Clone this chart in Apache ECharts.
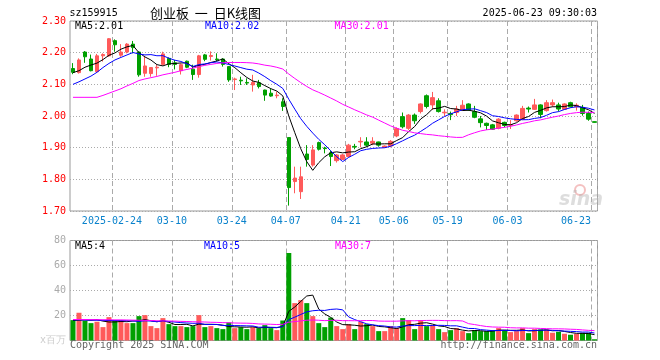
<!DOCTYPE html>
<html><head><meta charset="utf-8">
<script src="https://cdn.jsdelivr.net/npm/echarts@6/dist/echarts.min.js"></script>
<style>html,body{margin:0;padding:0;background:#fff}#c{width:660px;height:360px}</style>
</head><body><div id="c"></div>
<script>
const dates = ['02-13','02-14','02-17','02-18','02-19','02-20','02-21','02-24','02-25','02-26','02-27','02-28',
'03-03','03-04','03-05','03-06','03-07','03-10','03-11','03-12','03-13','03-14','03-17','03-18','03-19','03-20','03-21',
'03-24','03-25','03-26','03-27','03-28','03-31','04-01','04-02','04-03','04-07','04-08','04-09','04-10','04-11',
'04-14','04-15','04-16','04-17','04-18','04-21','04-22','04-23','04-24','04-25','04-28','04-29','04-30',
'05-06','05-07','05-08','05-09','05-12','05-13','05-14','05-15','05-16','05-19','05-20','05-21','05-22','05-23',
'05-26','05-27','05-28','05-29','05-30','06-03','06-04','06-05','06-06','06-09','06-10','06-11','06-12','06-13',
'06-16','06-17','06-18','06-19','06-20','06-23'];

const opens = [2.150,2.137,2.202,2.180,2.140,2.190,2.190,2.238,2.192,2.202,2.227,2.202,2.135,2.134,2.152,2.163,2.182,2.168,2.143,2.173,
2.148,2.131,2.193,2.188,2.180,2.180,2.156,2.115,2.113,2.106,2.098,2.105,2.082,2.072,2.064,2.045,1.932,1.793,1.761,1.880,
1.845,1.916,1.899,1.884,1.859,1.863,1.872,1.904,1.918,1.918,1.914,1.918,1.901,1.905,1.937,1.998,1.961,2.003,2.014,2.064,
2.035,2.048,2.010,2.008,2.011,2.019,2.038,2.014,1.991,1.977,1.972,1.961,1.980,1.971,1.985,1.990,2.025,2.021,2.035,2.017,
2.035,2.035,2.021,2.042,2.029,2.027,2.008,1.982];
const closes = [2.138,2.177,2.187,2.143,2.190,2.194,2.244,2.225,2.202,2.227,2.216,2.130,2.158,2.153,2.154,2.196,2.163,2.163,2.162,2.154,
2.131,2.190,2.179,2.191,2.178,2.163,2.114,2.117,2.111,2.104,2.106,2.093,2.066,2.063,2.066,2.030,1.774,1.804,1.808,1.863,
1.893,1.895,1.897,1.872,1.877,1.877,1.908,1.902,1.920,1.908,1.920,1.908,1.905,1.920,1.960,1.966,2.003,1.985,2.038,2.030,
2.058,2.014,2.012,2.004,2.022,2.034,2.019,1.996,1.979,1.970,1.958,1.990,1.970,1.973,2.003,2.024,2.022,2.035,2.005,2.042,
2.042,2.022,2.038,2.029,2.034,2.008,1.990,1.980];
const highs = [2.167,2.182,2.205,2.194,2.196,2.198,2.246,2.242,2.227,2.230,2.237,2.204,2.190,2.154,2.163,2.203,2.185,2.177,2.166,2.175,
2.162,2.193,2.196,2.204,2.198,2.182,2.157,2.121,2.124,2.119,2.130,2.114,2.083,2.087,2.077,2.056,1.932,1.840,1.840,1.908,
1.908,1.919,1.903,1.891,1.880,1.880,1.912,1.912,1.933,1.933,1.933,1.919,1.907,1.924,1.964,2.011,2.006,2.008,2.040,2.068,
2.076,2.056,2.021,2.014,2.032,2.050,2.040,2.032,2.000,1.979,1.975,1.993,1.982,1.987,2.005,2.032,2.030,2.054,2.037,2.050,
2.052,2.042,2.040,2.045,2.040,2.035,2.014,1.983];
const lows = [2.132,2.134,2.168,2.141,2.138,2.172,2.187,2.203,2.187,2.198,2.198,2.124,2.124,2.124,2.127,2.160,2.154,2.147,2.131,2.151,
2.114,2.121,2.173,2.175,2.172,2.156,2.108,2.082,2.098,2.098,2.077,2.087,2.048,2.061,2.056,2.016,1.717,1.756,1.738,1.840,
1.840,1.891,1.882,1.842,1.853,1.861,1.870,1.895,1.901,1.903,1.908,1.903,1.899,1.901,1.933,1.961,1.956,1.975,2.008,2.024,
2.019,2.011,2.000,1.987,2.000,2.016,2.016,1.993,1.964,1.956,1.956,1.958,1.964,1.959,1.982,1.987,2.011,2.019,1.993,2.014,
2.029,2.014,2.019,2.027,2.017,2.001,1.985,1.979];
// volume, millions
const volumes = [16.3,22.2,15.8,13.9,15.0,10.7,18.7,15.8,16.0,13.9,13.9,19.5,20.3,11.5,9.9,17.9,13.1,11.5,11.5,10.7,
11.5,20.3,10.7,11.5,9.9,9.1,14.4,9.9,10.7,9.1,10.7,9.9,12.3,9.9,8.3,16.0,70.0,29.9,32.3,29.9,
19.5,13.9,10.7,18.3,11.5,9.1,13.1,9.1,15.0,13.1,11.5,7.5,7.5,11.5,9.9,17.9,16.3,9.1,16.3,11.5,
12.3,9.1,6.7,8.3,9.9,7.5,5.9,8.3,7.5,7.5,8.3,9.9,8.3,6.7,7.5,9.9,5.9,9.1,8.8,8.8,
6.2,7.0,5.4,4.6,5.4,6.2,6.2,1.0];

// moving-average values for days whose window starts before the first shown day
const ma5Head = [2.137,2.143,2.154,2.161];
const ma10Head = [2.100,2.108,2.117,2.126,2.138,2.153,2.166,2.177,2.185];
const ma30Head = [2.059,2.059,2.059,2.059,2.059,2.065,2.072,2.079,2.086,2.095,2.103,2.112,2.117,2.121,2.125,2.130,2.134,2.138,2.143,2.147,
2.151,2.156,2.160,2.163,2.166,2.168,2.169,2.169,2.169];
const vma5Head = [16.0,16.3,16.5,16.2];
const vma10Head = [16.5,16.5,16.4,16.3,16.2,16.1,16.0,16.0,15.9];
const vma30Head = [16.8,16.8,16.8,16.7,16.7,16.6,16.6,16.5,16.5,16.4,16.3,16.2,16.1,16.0,15.8,15.7,15.6,15.5,15.3,15.2,
15.0,14.9,14.8,14.6,14.5,14.3,14.2,14.0,13.9];

const tickDates = ['02-24','03-10','03-24','04-07','04-21','05-06','05-19','06-03','06-23'];
const tickLabels = ['2025-02-24','03-10','03-24','04-07','04-21','05-06','05-19','06-03','06-23'];
const priceTicks = [1.7,1.8,1.9,2.0,2.1,2.2,2.3];
const volTicks = [0,20,40,60,80];

function movingAvg(vals, n, head){
  return vals.map((v,i)=> i < n-1 ? head[i] : +(vals.slice(i-n+1,i+1).reduce((a,b)=>a+b,0)/n).toFixed(4));
}

const up = '#ff5a5a', down = '#00a000';
const mono = '"DejaVu Sans Mono", monospace';
const gridCol = '#aaaaaa';
const isTick = (i, v) => tickDates.includes(v);

const chart = echarts.init(document.getElementById('c'));
const gLeft = 70, gRight = 62.5;

function txt(text, x, y, color, size, align, extra){
  return {type:'text', x:x, y:y, silent:true, z:100,
    style:Object.assign({text:text, fill:color, font:(size||10)+'px '+mono, textAlign:align||'left', align:align||'left', textVerticalAlign:'middle', verticalAlign:'middle'}, extra||{})};
}

chart.setOption({
  animation:false,
  grid:[
    {left:gLeft, right:gRight, top:21, height:190, show:true, borderColor:'#999', borderWidth:1, backgroundColor:'transparent'},
    {left:gLeft, right:gRight, top:240.5, height:100, show:true, borderColor:'#999', borderWidth:1, backgroundColor:'transparent'}
  ],
  xAxis:[
    {type:'category', gridIndex:0, data:dates, boundaryGap:true,
     axisLine:{show:false}, axisTick:{show:false},
     axisLabel:{interval:isTick, margin:5,
       formatter:(v)=>{const k=tickDates.indexOf(v); return (k===tickDates.length-1?'{e|':'{n|')+tickLabels[k]+'}';},
       rich:{n:{color:'#0a82cc', fontFamily:mono, fontSize:10, padding:[0,6,0,0]},
             e:{color:'#0a82cc', fontFamily:mono, fontSize:10, padding:[0,37,0,0]}}},
     splitLine:{show:true, interval:isTick, lineStyle:{color:gridCol, width:1, type:[5,3]}}},
    {type:'category', gridIndex:1, data:dates, boundaryGap:true,
     axisLine:{show:false}, axisTick:{show:false}, axisLabel:{show:false},
     splitLine:{show:true, interval:isTick, lineStyle:{color:gridCol, width:1, type:[5,3]}}}
  ],
  yAxis:[
    {type:'value', gridIndex:0, min:priceTicks[0], max:priceTicks[priceTicks.length-1], interval:0.1,
     axisLine:{show:false}, axisTick:{show:false},
     axisLabel:{color:'#ff0000', fontFamily:mono, fontSize:10, margin:4, formatter:(v)=>v.toFixed(2)},
     splitLine:{show:true, lineStyle:{color:gridCol, width:1, type:[1,2]}}},
    {type:'value', gridIndex:1, min:volTicks[0], max:volTicks[volTicks.length-1], interval:20,
     axisLine:{show:false}, axisTick:{show:false},
     axisLabel:{color:'#aaaaaa', fontFamily:mono, fontSize:10, margin:4,
       formatter:(v)=> v===0 ? '{u|x百万}' : String(v),
       rich:{u:{color:'#cccccc', fontSize:10, fontFamily:mono}}},
     splitLine:{show:true, lineStyle:{color:gridCol, width:1, type:[1,2]}}}
  ],
  series:[
    {type:'candlestick', xAxisIndex:0, yAxisIndex:0, barWidth:4, silent:true,
     data:dates.map((d,i)=>[opens[i], closes[i], lows[i], highs[i]]),
     itemStyle:{color:up, color0:down, borderColor:up, borderColor0:down, borderWidth:1}},
    {type:'line', xAxisIndex:0, yAxisIndex:0, data:movingAvg(closes,5,ma5Head), symbol:'none', silent:true, lineStyle:{width:1,color:'#000000'}, z:3},
    {type:'line', xAxisIndex:0, yAxisIndex:0, data:movingAvg(closes,10,ma10Head), symbol:'none', silent:true, lineStyle:{width:1,color:'#0000ff'}, z:3},
    {type:'line', xAxisIndex:0, yAxisIndex:0, data:movingAvg(closes,30,ma30Head), symbol:'none', silent:true, lineStyle:{width:1,color:'#ff00ff'}, z:3},
    {type:'bar', xAxisIndex:1, yAxisIndex:1, barWidth:5, silent:true,
     data:volumes.map((v,i)=>({value:v, itemStyle:{color: closes[i]>=opens[i]?up:down}}))},
    {type:'line', xAxisIndex:1, yAxisIndex:1, data:movingAvg(volumes,5,vma5Head), symbol:'none', silent:true, lineStyle:{width:1,color:'#000000'}, z:3},
    {type:'line', xAxisIndex:1, yAxisIndex:1, data:movingAvg(volumes,10,vma10Head), symbol:'none', silent:true, lineStyle:{width:1,color:'#0000ff'}, z:3},
    {type:'line', xAxisIndex:1, yAxisIndex:1, data:movingAvg(volumes,30,vma30Head), symbol:'none', silent:true, lineStyle:{width:1,color:'#ff00ff'}, z:3}
  ],
  graphic:[
    txt('sz159915', 69.5, 13, '#000'),
    {type:'text', x:150, y:13, silent:true, z:100, style:{text:'创业板  一  日K线图', fill:'#000', font:'13px "Noto Sans CJK SC", sans-serif', textAlign:'left', align:'left', textVerticalAlign:'middle', verticalAlign:'middle'}},
    txt('2025-06-23 09:30:03', 597, 13, '#000', 10, 'right'),
    txt('MA5:2.01', 75, 26, '#000'),
    txt('MA10:2.02', 205, 26, '#0000ff'),
    txt('MA30:2.01', 334.5, 26, '#ff00ff'),
    txt('MA5:4', 75, 246.5, '#000'),
    txt('MA10:5', 204, 246.5, '#0000ff'),
    txt('MA30:7', 335, 246.5, '#ff00ff'),
    txt('Copyright 2025 SINA.COM', 70, 345.5, '#666'),
    txt('http://finance.sina.com.cn', 597, 345.5, '#666', 10, 'right'),
    {type:'circle', shape:{cx:580, cy:190, r:5}, silent:true, z:90, style:{fill:'none', stroke:'rgba(235,140,140,0.55)', lineWidth:2}},
    {type:'text', x:581, y:200, silent:true, z:90, style:{text:'sina', fill:'rgba(180,180,180,0.45)', font:'italic bold 19px "DejaVu Sans", sans-serif', textAlign:'center', align:'center', textVerticalAlign:'middle', verticalAlign:'middle'}}
  ]
});
</script></body></html>
